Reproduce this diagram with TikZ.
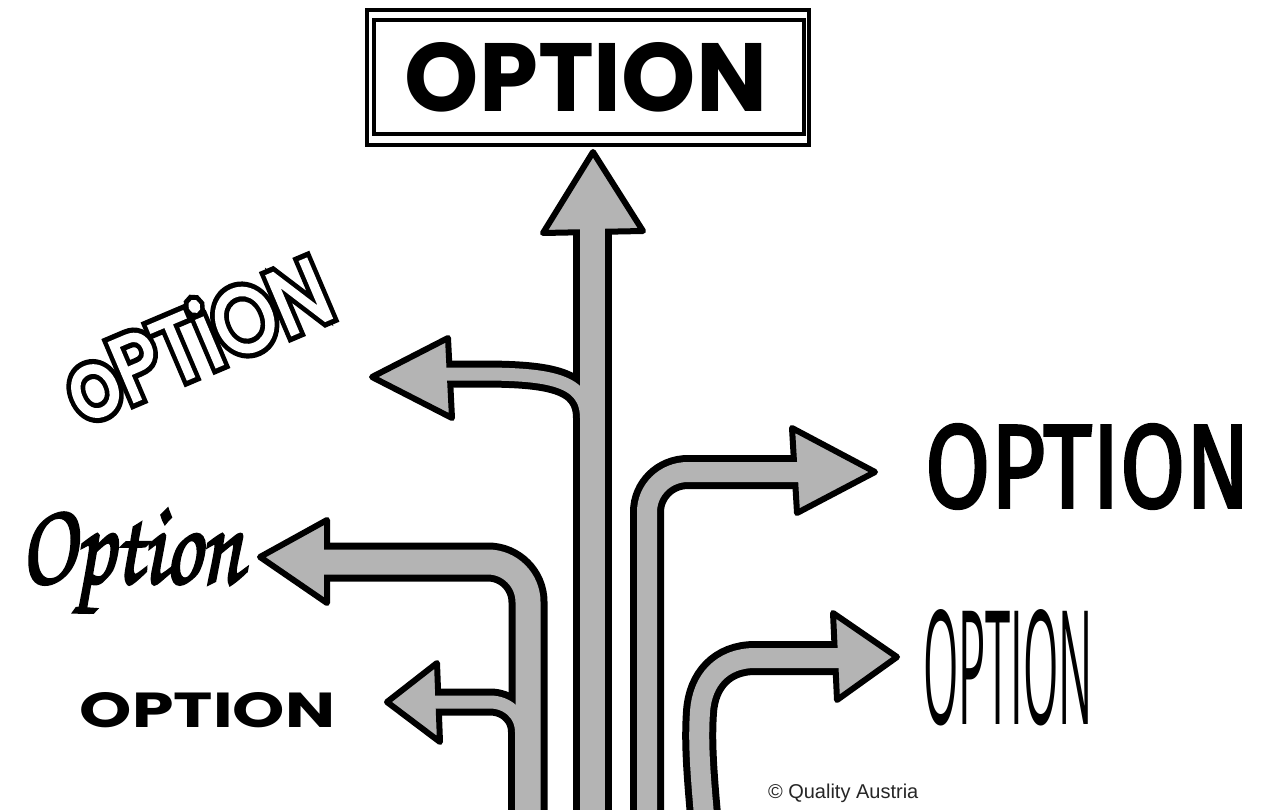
\documentclass[tikz,border=0pt]{standalone}
\usepackage{fontspec}
\usepackage{graphicx}
\newfontfamily\poppins{Poppins}
\newfontfamily\poppinsin{Poppins}[FakeBold=2.5]
\newfontfamily\poppinsout{Poppins}[FakeBold=14]
\newfontfamily\fira{Fira Sans}[FakeBold=2.5]
\newfontfamily\opensans{Open Sans}
\newfontfamily\libsans{Liberation Sans}
\newfontfamily\chorus{TeX Gyre Chorus}[FakeBold=2.5]
\definecolor{arrowgray}{RGB}{180,180,180}
\tikzset{
  stemout/.style={draw=black, line width=#1+14},
  stemin/.style={draw=arrowgray, line width=#1},
  headshape/.style={fill=arrowgray, draw=black, line width=6, line join=round},
  lbl/.style={inner sep=0pt, outer sep=0pt},
  frame/.style={draw=black, line width=4},
}
\begin{document}
\begin{tikzpicture}[x=1pt,y=-1pt]
\useasboundingbox (0,0) rectangle (1265,810);
\fill[white] (0,0) rectangle (1265,810);
\begin{scope}
\clip (0,0) rectangle (1265,810);
% stem centre lines
\def\pMain{(592.5,815) -- (592.5,225)}
\def\pUL{(438,374) -- (480,374) .. controls (550,374) and (586.5,380) .. (586.5,418) -- (586.5,460)}
\def\pML{(320,562) -- (488,562) .. controls (510,562) and (528,580) .. (528,602) -- (528,815)}
\def\pLL{(432,702) -- (490,702) .. controls (507,702) and (521.5,714) .. (521.5,732) -- (521.5,815)}
\def\pUR{(647,815) -- (647,512) .. controls (647,490) and (665,472) .. (688,472) -- (805,472)}
\def\pLR{(704,815) .. controls (700,770) and (698,740) .. (700,712) .. controls (702,680) and (722,658) .. (755,658) -- (845,658)}
% outlines
\draw[stemout=25] \pMain;
\draw[stemout=13] \pUL;
\draw[stemout=25] \pML;
\draw[stemout=13] \pLL;
\draw[stemout=20] \pUR;
\draw[stemout=20] \pLR;
% heads
\coordinate (tipMain) at (593,152);
\coordinate (tipUL) at (372,377);
\coordinate (tipML) at (260,557);
\coordinate (tipLL) at (387,702);
\coordinate (tipUR) at (875,472);
\coordinate (tipLR) at (897,657);
\draw[headshape] (543,233) -- (tipMain) -- (643,231) -- cycle;
\draw[headshape] (448,338) -- (tipUL) -- (452,418) -- cycle;
\draw[headshape] (327,520) -- (tipML) -- (327,603) -- cycle;
\draw[headshape] (437,663) -- (tipLL) -- (440,742) -- cycle;
\draw[headshape] (792,428) -- (tipUR) -- (797,513) -- cycle;
\draw[headshape] (833,613) -- (tipLR) -- (837,700) -- cycle;
% gray fills
\draw[stemin=25] \pMain;
\draw[stemin=13] \pUL;
\draw[stemin=25] \pML;
\draw[stemin=13] \pLL;
\draw[stemin=20] \pUR;
\draw[stemin=20] \pLR;
\end{scope}
% top sign
\draw[frame] (366.5,10.5) rectangle (808.5,145);
\draw[frame] (373.5,20.5) rectangle (803.5,134.5);
\node[lbl] (top) at (586,77.5) {\resizebox{362pt}{69pt}{\poppins\bfseries OPTION}};
% rotated outlined label: black stroked copy under a white copy
\node[lbl, rotate=23, text=black] (ulback) at (196,338) {\resizebox{278pt}{70pt}{\fontsize{96}{96}\poppinsout oPTiON}};
\node[lbl, rotate=23, text=white] (ul) at (196,338) {\resizebox{278pt}{70pt}{\fontsize{96}{96}\poppinsin oPTiON}};
% script label
\node[lbl, anchor=base west] (ml) at (20,583) {\resizebox{222pt}{74pt}{\fontsize{100}{100}\chorus Option}};
% small wide label
\node[lbl] (ll) at (207.5,710.5) {\resizebox{255pt}{35pt}{\poppins\bfseries OPTION}};
% right labels
\node[lbl] (ur) at (1087.5,466.5) {\resizebox{325pt}{83pt}{\fontsize{100}{100}\fira OPTION}};
\node[lbl] (lr) at (1008,667.5) {\resizebox{170pt}{115pt}{\opensans OPTION}};
% copyright
\node[lbl, anchor=base west, text=black!85] (copy) at (768,798) {\libsans\fontsize{20}{24}\selectfont © Quality Austria};
\end{tikzpicture}
\end{document}
